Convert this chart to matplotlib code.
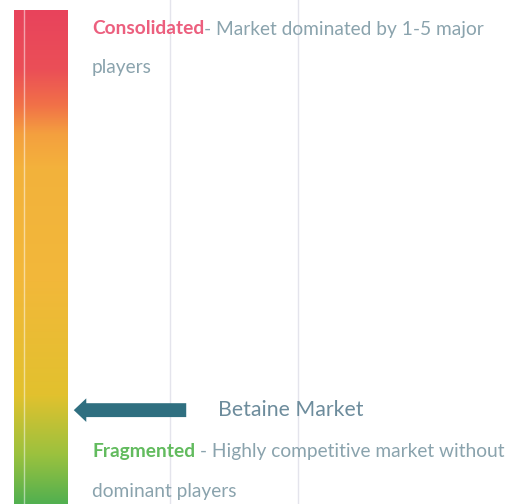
import numpy as np
import matplotlib.pyplot as plt
from matplotlib.colors import LinearSegmentedColormap

# concentration scale: 0 = fragmented, 1 = consolidated
market_name = 'Betaine Market'
market_position = 0.19
top_label = 'Consolidated'
top_desc = ['- Market dominated by 1-5 major', 'players']
bottom_label = 'Fragmented'
bottom_desc = [' - Highly competitive market without', 'dominant players']

stops = [0.0, 0.1, 0.22, 0.45, 0.68, 0.75, 0.81, 0.88, 1.0]
stop_colors = ['#52b050', '#9cc23e', '#e2c12e', '#f2b83a', '#f3b23c',
               '#f4a03f', '#f17048', '#eb4f57', '#e8435c']

W, H = 532, 504
fig = plt.figure(figsize=(W / 100, H / 100), dpi=100)
ax = fig.add_axes([0, 0, 1, 1])
bar_top = 10
ax.set_xlim(0, W)
ax.set_ylim(0, H / (H - bar_top))
ax.axis('off')

# faint vertical guide lines
for gx in [170, 298]:
    ax.axvline(gx, color='#e4e4ec', lw=1, zorder=0)

cmap = LinearSegmentedColormap.from_list('conc', list(zip(stops, stop_colors)))
grad = np.linspace(0, 1, 256).reshape(-1, 1)
ax.imshow(grad, cmap=cmap, origin='lower', aspect='auto',
          extent=[14, 68, 0, 1], zorder=1)
ax.axvline(24, ymin=0, ymax=(H - bar_top) / H, color='white', lw=1, alpha=0.5, zorder=2)

# arrow pointing at the bar
ax.annotate('', xy=(71, market_position), xytext=(189, market_position),
            arrowprops=dict(arrowstyle='simple,head_length=0.9,head_width=1.7,tail_width=1.0',
                            color='#2f6f80', lw=0), zorder=3)
ax.text(218, market_position, market_name, fontsize=15.3, color='#6d8c9c',
        family='Lato', va='center', ha='left')

def fx(px):
    return px / W

def fy(py):
    return 1 - py / H

fs = 13.8
desc_style = dict(transform=fig.transFigure, fontsize=fs, color='#8aa3ad',
                  family='Lato', va='center')

t = ax.text(fx(92), fy(29), top_label, transform=fig.transFigure, fontsize=fs,
            fontweight='bold', color='#ec5f7e', family='Lato', va='center')
fig.canvas.draw()
bb = t.get_window_extent()
ax.text(bb.x1 / W, fy(29), top_desc[0], **desc_style)
ax.text(fx(92), fy(68), top_desc[1], **desc_style)

t2 = ax.text(fx(92), fy(451), bottom_label, transform=fig.transFigure, fontsize=fs,
             fontweight='bold', color='#62bb5e', family='Lato', va='center')
fig.canvas.draw()
bb2 = t2.get_window_extent()
ax.text(bb2.x1 / W, fy(451), bottom_desc[0], **desc_style)
ax.text(fx(92), fy(491), bottom_desc[1], **desc_style)

fig.savefig('out.png', dpi=100)
